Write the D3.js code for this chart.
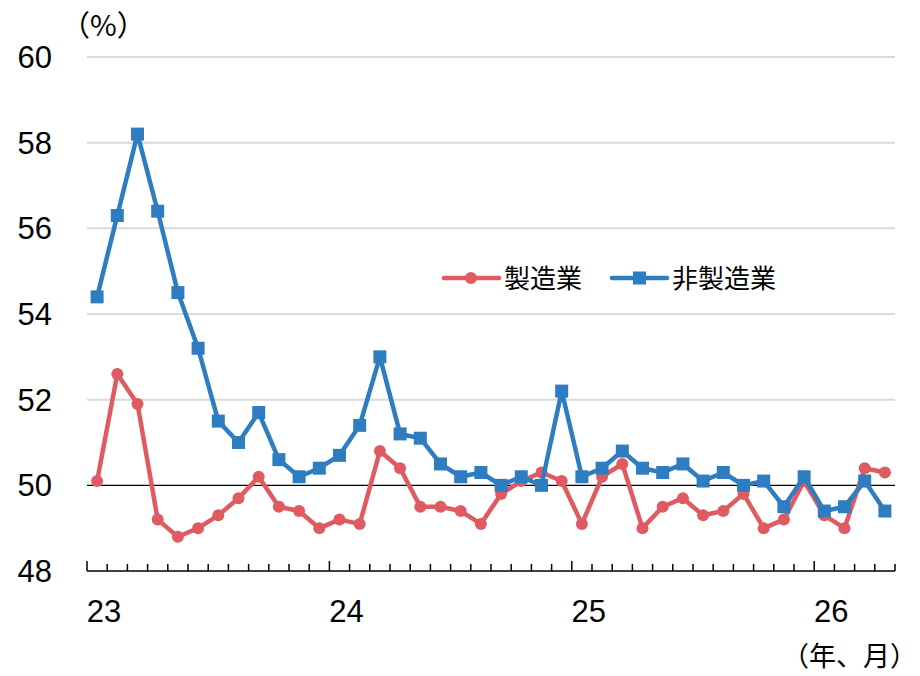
<!DOCTYPE html>
<html>
<head>
<meta charset="utf-8">
<script src="https://cdn.jsdelivr.net/npm/d3@7"></script>
<style>
  body { margin: 0; background: #fff; }
  text { font-family: "Liberation Sans", Arial, "Noto Sans CJK JP", sans-serif; fill: #000; }
  .jp { font-family: "Noto Sans CJK JP", sans-serif; }
</style>
</head>
<body>
<svg id="chart" width="920" height="676"></svg>
<script>
// monthly, Jan 2023 .. Apr 2026
const years = ['23', '24', '25', '26'];
const monthsPerYear = [12, 12, 12, 4];
const seriesNames = ['製造業', '非製造業'];
const manufacturing = [
  50.1, 52.6, 51.9, 49.2, 48.8, 49.0, 49.3, 49.7, 50.2, 49.5, 49.4, 49.0,
  49.2, 49.1, 50.8, 50.4, 49.5, 49.5, 49.4, 49.1, 49.8, 50.1, 50.3, 50.1,
  49.1, 50.2, 50.5, 49.0, 49.5, 49.7, 49.3, 49.4, 49.8, 49.0, 49.2, 50.1,
  49.3, 49.0, 50.4, 50.3
];
const nonManufacturing = [
  54.4, 56.3, 58.2, 56.4, 54.5, 53.2, 51.5, 51.0, 51.7, 50.6, 50.2, 50.4,
  50.7, 51.4, 53.0, 51.2, 51.1, 50.5, 50.2, 50.3, 50.0, 50.2, 50.0, 52.2,
  50.2, 50.4, 50.8, 50.4, 50.3, 50.5, 50.1, 50.3, 50.0, 50.1, 49.5, 50.2,
  49.4, 49.5, 50.1, 49.4
];
const yTicks = [48, 50, 52, 54, 56, 58, 60];

const red = '#df5b61';
const blue = '#2f7dc1';

const svg = d3.select('#chart');
const n = manufacturing.length;

const x = d3.scaleLinear().domain([0, n]).range([87, 895]);
const y = d3.scaleLinear().domain([48, 60]).range([571, 57]);

// gridlines
svg.append('g')
  .selectAll('line')
  .data(yTicks.filter(d => d > 50))
  .enter()
  .append('line')
  .attr('x1', x(0)).attr('x2', x(n))
  .attr('y1', d => y(d)).attr('y2', d => y(d))
  .attr('stroke', '#d9d9d9')
  .attr('stroke-width', 2);

// 50 reference line
svg.append('line')
  .attr('x1', x(0)).attr('x2', x(n))
  .attr('y1', y(50)).attr('y2', y(50))
  .attr('stroke', '#000')
  .attr('stroke-width', 1.3);

// y labels
svg.append('g')
  .selectAll('text')
  .data(yTicks)
  .enter()
  .append('text')
  .attr('x', 52)
  .attr('y', d => y(d) + 11)
  .attr('text-anchor', 'end')
  .style('font-size', '31px')
  .text(d => d);

svg.append('text')
  .attr('class', 'jp')
  .attr('x', 61).attr('y', 36)
  .style('font-size', '29px')
  .text('（%）');

// x axis
svg.append('line')
  .attr('x1', x(0)).attr('x2', x(n))
  .attr('y1', y(48)).attr('y2', y(48))
  .attr('stroke', '#000')
  .attr('stroke-width', 1.5);

const yearStarts = [];
let acc = 0;
monthsPerYear.forEach(m => { yearStarts.push(acc); acc += m; });

svg.append('g')
  .selectAll('line')
  .data(d3.range(n + 1))
  .enter()
  .append('line')
  .attr('x1', d => x(d)).attr('x2', d => x(d))
  .attr('y1', y(48))
  .attr('y2', d => y(48) - (yearStarts.includes(d) ? 10 : 7))
  .attr('stroke', '#000')
  .attr('stroke-width', 1.5);

svg.append('g')
  .selectAll('text')
  .data(years)
  .enter()
  .append('text')
  .attr('x', (d, i) => x(yearStarts[i]) + 17)
  .attr('y', 622)
  .attr('text-anchor', 'middle')
  .style('font-size', '31px')
  .text(d => d);

svg.append('text')
  .attr('class', 'jp')
  .attr('x', 917).attr('y', 666)
  .attr('text-anchor', 'end')
  .style('font-size', '27px')
  .text('（年、月）');

// lines
const line = d3.line()
  .x((d, i) => x(i + 0.5))
  .y(d => y(d));

svg.append('path')
  .datum(manufacturing)
  .attr('d', line)
  .attr('fill', 'none')
  .attr('stroke', red)
  .attr('stroke-width', 4.5)
  .attr('stroke-linejoin', 'round');

svg.append('g')
  .selectAll('circle')
  .data(manufacturing)
  .enter()
  .append('circle')
  .attr('cx', (d, i) => x(i + 0.5))
  .attr('cy', d => y(d))
  .attr('r', 6)
  .attr('fill', red);

svg.append('path')
  .datum(nonManufacturing)
  .attr('d', line)
  .attr('fill', 'none')
  .attr('stroke', blue)
  .attr('stroke-width', 4.5)
  .attr('stroke-linejoin', 'round');

svg.append('g')
  .selectAll('rect')
  .data(nonManufacturing)
  .enter()
  .append('rect')
  .attr('x', (d, i) => x(i + 0.5) - 6.5)
  .attr('y', d => y(d) - 6.5)
  .attr('width', 13)
  .attr('height', 13)
  .attr('fill', blue);

// legend
const legend = svg.append('g').attr('transform', 'translate(0, 278)');
const legendItems = [
  { name: seriesNames[0], color: red, x0: 444, shape: 'circle' },
  { name: seriesNames[1], color: blue, x0: 612, shape: 'rect' }
];
legendItems.forEach(it => {
  legend.append('line')
    .attr('x1', it.x0).attr('x2', it.x0 + 55)
    .attr('y1', 0).attr('y2', 0)
    .attr('stroke', it.color)
    .attr('stroke-width', 4.5)
    .attr('stroke-linecap', 'round');
  if (it.shape === 'circle') {
    legend.append('circle').attr('cx', it.x0 + 27).attr('cy', 0).attr('r', 6).attr('fill', it.color);
  } else {
    legend.append('rect').attr('x', it.x0 + 21).attr('y', -6.5).attr('width', 13).attr('height', 13).attr('fill', it.color);
  }
  legend.append('text')
    .attr('class', 'jp')
    .attr('x', it.x0 + 60)
    .attr('y', 10)
    .style('font-size', '26px')
    .text(it.name);
});
</script>
</body>
</html>
